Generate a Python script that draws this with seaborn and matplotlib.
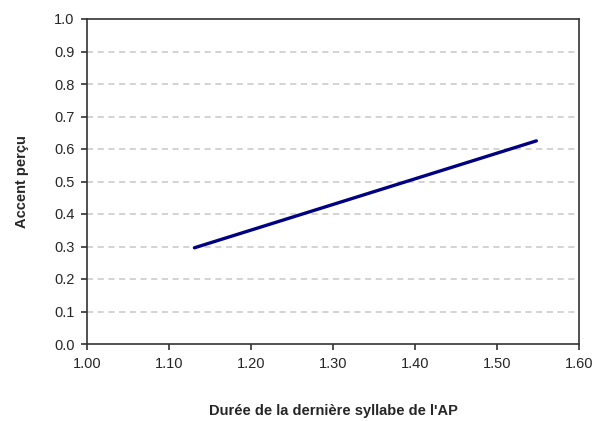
import matplotlib
matplotlib.use("Agg")
import matplotlib.pyplot as plt
import numpy as np
import pandas as pd
import seaborn as sb

# valeurs
duree = [1.131, 1.548]
accent = [0.296, 0.625]
x_ticks = [1.00, 1.10, 1.20, 1.30, 1.40, 1.50, 1.60]
y_ticks = [0.0, 0.1, 0.2, 0.3, 0.4, 0.5, 0.6, 0.7, 0.8, 0.9, 1.0]

sb.set_style("white")
plt.rcParams['font.family'] = ['Liberation Sans', 'DejaVu Sans']

df = pd.DataFrame({"duree": duree, "accent": accent})

f = plt.figure(figsize=(5.96, 4.21), dpi=100)
ax = f.add_axes([87 / 596, 1 - 344 / 421, (579 - 87) / 596, (344 - 19) / 421])

for v in y_ticks[1:-1]:
    ax.axhline(v, color='#c8c8c8', lw=1.1, ls=(0, (4, 3)), zorder=0)

sb.lineplot(data=df, x="duree", y="accent", ax=ax, color='#000080', lw=2.4)

ax.set_xlim(1.0, 1.6)
ax.set_ylim(0.0, 1.0)
ax.set_xticks(x_ticks)
ax.set_yticks(y_ticks)
ax.set_xticklabels(["%.2f" % v for v in x_ticks])
ax.set_yticklabels(["%.1f" % v for v in y_ticks])
ax.tick_params(axis='both', direction='out', length=4, width=1.2, color='#333333',
               labelsize=10.5, pad=5, bottom=True, left=True)

for s in ax.spines.values():
    s.set_color('#333333')
    s.set_linewidth(1.2)

ax.set_xlabel("Durée de la dernière syllabe de l'AP", fontsize=10.5, fontweight='bold', labelpad=24)
ax.set_ylabel("Accent perçu", fontsize=10.5, fontweight='bold', labelpad=18)

f.savefig("out.png", dpi=100)
